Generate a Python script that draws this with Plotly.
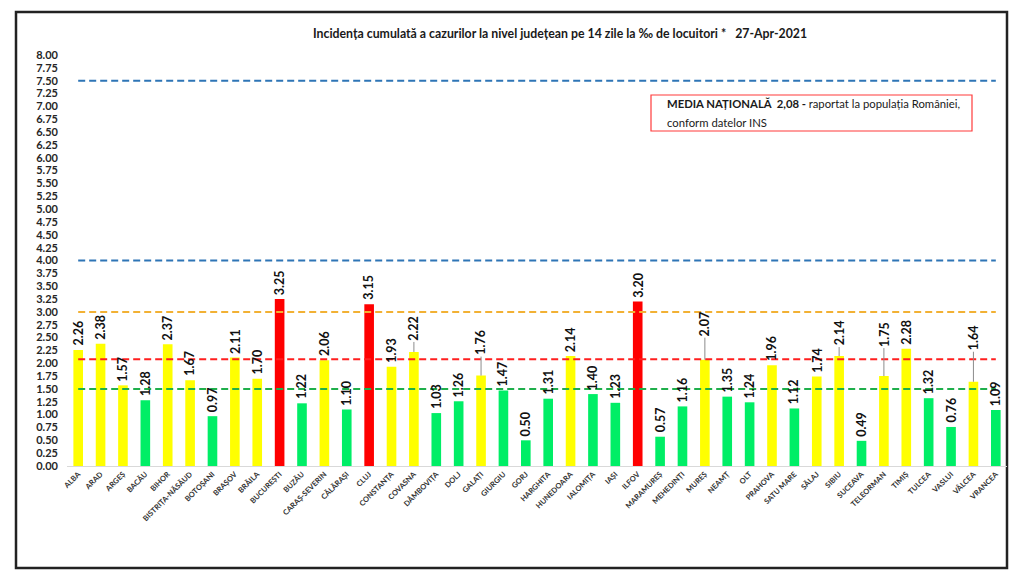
import plotly.graph_objects as go

counties = ["ALBA", "ARAD", "ARGEȘ", "BACĂU", "BIHOR", "BISTRIȚA-NĂSĂUD", "BOTOȘANI", "BRAȘOV",
            "BRĂILA", "BUCUREȘTI", "BUZĂU", "CARAȘ-SEVERIN", "CĂLĂRAȘI", "CLUJ", "CONSTANȚA",
            "COVASNA", "DÂMBOVIȚA", "DOLJ", "GALAȚI", "GIURGIU", "GORJ", "HARGHITA", "HUNEDOARA",
            "IALOMIȚA", "IAȘI", "ILFOV", "MARAMUREȘ", "MEHEDINȚI", "MUREȘ", "NEAMȚ", "OLT",
            "PRAHOVA", "SATU MARE", "SĂLAJ", "SIBIU", "SUCEAVA", "TELEORMAN", "TIMIȘ", "TULCEA",
            "VASLUI", "VÂLCEA", "VRANCEA"]
incidence = [2.26, 2.38, 1.57, 1.28, 2.37, 1.67, 0.97, 2.11, 1.70, 3.25, 1.22, 2.06, 1.10, 3.15,
             1.93, 2.22, 1.03, 1.26, 1.76, 1.47, 0.50, 1.31, 2.14, 1.40, 1.23, 3.20, 0.57, 1.16,
             2.07, 1.35, 1.24, 1.96, 1.12, 1.74, 2.14, 0.49, 1.75, 2.28, 1.32, 0.76, 1.64, 1.09]
national_avg = 2.08
threshold_levels = [7.5, 4.0, 3.0, national_avg, 1.5]
y_ticks = [i * 0.25 for i in range(33)]

# styles
threshold_colors = ["#2E75B6", "#2E75B6", "#F2B134", "#FF1F1F", "#1FAF4B"]
RED, YELLOW, GREEN = "#FF0000", "#FFFF00", "#00EE66"
bar_colors = [RED if v >= 3 else (YELLOW if v >= 1.5 else GREEN) for v in incidence]
# label leader-line offsets (pixels) for labels moved up in the reference
leader_offsets = {"COVASNA": 11, "GALAȚI": 20, "MUREȘ": 23, "SIBIU": 10, "TELEORMAN": 29, "VÂLCEA": 31}

PAGE_OFF = 8  # browser body margin
W, H = 1024 - PAGE_OFF, 581 - PAGE_OFF
# plot area in reference (window) pixel coordinates
X0, X1, Y0, Y1 = 67, 1007, 55, 466
L, R, T = X0 - PAGE_OFF, (W + PAGE_OFF) - X1, Y0 - PAGE_OFF
B = (H + PAGE_OFF) - Y1
PW, PH = X1 - X0, Y1 - Y0
def px(x):
    return (x - X0) / PW
def py(y):
    return (Y1 - y) / PH

FONT = "Lato"
fig = go.Figure()
fig.add_trace(go.Bar(x=counties, y=incidence, marker=dict(color=bar_colors, line=dict(width=0)),
                     showlegend=False, hoverinfo="x+y"))
for lvl, col in zip(threshold_levels, threshold_colors):
    fig.add_trace(go.Scatter(x=counties, y=[lvl] * len(counties), mode="lines",
                             line=dict(color=col, width=2, dash="7px,4px"),
                             showlegend=False, hoverinfo="skip"))

annotations = []
lab_font = dict(family=FONT, size=12.5, color="#111111")
for c, v in zip(counties, incidence):
    off = leader_offsets.get(c)
    txt = "<b>%.2f</b>" % v
    if off:
        annotations.append(dict(x=c, y=v, xref="x", yref="y", text=txt, textangle=-90,
                                showarrow=True, arrowhead=0, arrowwidth=1, arrowcolor="#8c8c8c",
                                ax=0, ay=-(off + 13), standoff=0, font=lab_font))
    else:
        annotations.append(dict(x=c, y=v, xref="x", yref="y", text=txt, textangle=-90,
                                showarrow=False, yanchor="bottom", yshift=2, font=lab_font))

annotations.append(dict(xref="paper", yref="paper", x=px(560), y=py(33), xanchor="center", yanchor="middle",
                        showarrow=False,
                        text="<b>Incidența cumulată a cazurilor la nivel județean pe 14 zile la ‰ de locuitori *   27-Apr-2021</b>",
                        font=dict(family=FONT, size=12.3, color="#1a1a1a")))
annotations.append(dict(xref="paper", yref="paper", x=px(665), y=py(104), xanchor="left", yanchor="middle",
                        showarrow=False,
                        text="<b>MEDIA NAȚIONALĂ  2,08 - </b>raportat la populația României,",
                        font=dict(family=FONT, size=11.3, color="#1a1a1a")))
annotations.append(dict(xref="paper", yref="paper", x=px(665), y=py(122), xanchor="left", yanchor="middle",
                        showarrow=False, text="conform datelor INS",
                        font=dict(family=FONT, size=11.3, color="#1a1a1a")))

shapes = [
    dict(type="rect", xref="paper", yref="paper", x0=px(651), x1=px(972), y0=py(131), y1=py(95),
         line=dict(color="#FF3B3B", width=1.2), fillcolor="rgba(0,0,0,0)"),
    dict(type="rect", xref="paper", yref="paper", x0=px(16), x1=px(1007), y0=py(568), y1=py(12),
         line=dict(color="#222222", width=2.5), fillcolor="rgba(0,0,0,0)", layer="below"),
]

fig.update_layout(
    width=W, height=H, margin=dict(l=L, r=R, t=T, b=B, autoexpand=False),
    paper_bgcolor="white", plot_bgcolor="white",
    bargap=0.57, annotations=annotations, shapes=shapes,
    xaxis=dict(tickangle=-45, tickfont=dict(family=FONT, size=7.5, color="#333333", weight="bold"),
               showline=True, linecolor="#d9d9d9", linewidth=1, ticks="", showgrid=False,
               range=[-0.5, len(counties) - 0.5], fixedrange=True, automargin=False),
    yaxis=dict(range=[0, 8], tickvals=y_ticks, ticktext=["%.2f" % t for t in y_ticks],
               tickfont=dict(family=FONT, size=11, color="#262626", weight="bold"),
               showgrid=False, zeroline=False, showline=False, ticks="", ticklabelstandoff=8,
               automargin=False),
    font=dict(family=FONT),
)

fig.write_html("out.html")
